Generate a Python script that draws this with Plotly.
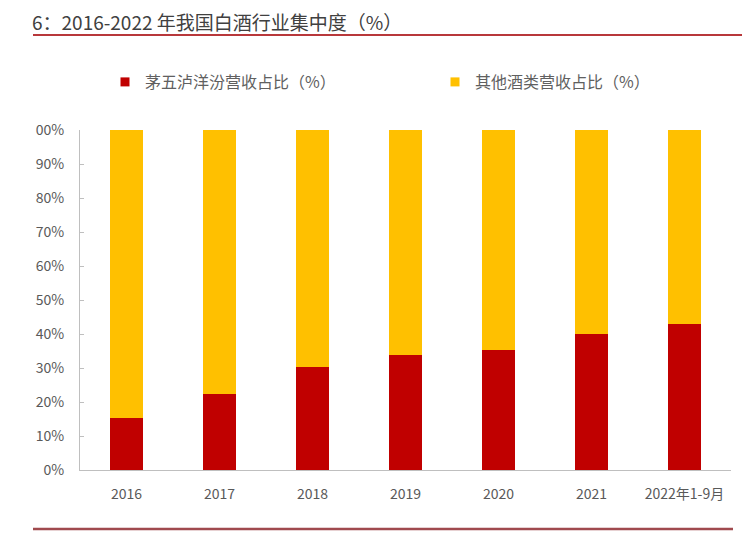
import plotly.graph_objects as go

categories = ["2016", "2017", "2018", "2019", "2020", "2021", "2022年1-9月"]
top5_share = [0.154, 0.224, 0.303, 0.337, 0.352, 0.400, 0.428]
other_share = [round(1 - v, 3) for v in top5_share]
tick_vals = [0, 0.1, 0.2, 0.3, 0.4, 0.5, 0.6, 0.7, 0.8, 0.9, 1.0]
tick_text = ["0%", "10%", "20%", "30%", "40%", "50%", "60%", "70%", "80%", "90%", "00%"]
series_names = ["茅五泸洋汾营收占比（%）", "其他酒类营收占比（%）"]
series_colors = ["#C00000", "#FFC000"]

FONT = "Noto Sans CJK SC, Noto Sans, sans-serif"
W, H = 742, 531  # page body has an 8px margin

fig = go.Figure()
fig.add_trace(go.Bar(x=categories, y=top5_share, name=series_names[0], showlegend=False,
                     marker=dict(color=series_colors[0], line=dict(width=0))))
fig.add_trace(go.Bar(x=categories, y=other_share, name=series_names[1], showlegend=False,
                     marker=dict(color=series_colors[1], line=dict(width=0))))
# legend entries
fig.add_trace(go.Scatter(x=[None], y=[None], mode="markers", name=series_names[0],
                         marker=dict(symbol="square", size=9, color=series_colors[0]),
                         legend="legend"))
fig.add_trace(go.Scatter(x=[None], y=[None], mode="markers", name=series_names[1],
                         marker=dict(symbol="square", size=9, color=series_colors[1]),
                         legend="legend2"))

leg_common = dict(orientation="h", yanchor="middle", xanchor="left", itemwidth=30,
                  font=dict(size=16, color="#606060", family=FONT),
                  bgcolor="rgba(0,0,0,0)", y=(470 - 82) / 340)

fig.update_layout(
    width=W, height=H,
    barmode="stack", bargap=0.645,
    paper_bgcolor="white", plot_bgcolor="white",
    margin=dict(l=72, r=19, t=122, b=69, autoexpand=False),
    font=dict(family=FONT, color="#595959", size=14),
    showlegend=True,
    legend=dict(x=(105 - 80) / 651, **leg_common),
    legend2=dict(x=(435 - 80) / 651, **leg_common),
    title=dict(text="6：2016-2022 年我国白酒行业集中度（%）", xref="container", yref="container",
               x=(32 - 8) / W, y=1 - (23 - 8) / H, xanchor="left", yanchor="middle",
               font=dict(size=19, color="#404040", family=FONT)),
    xaxis=dict(showline=True, linecolor="#BFBFBF", linewidth=1, ticks="", showgrid=False,
               automargin=False, ticklabelstandoff=11,
               tickfont=dict(size=14, color="#595959")),
    yaxis=dict(range=[0, 1], tickvals=tick_vals, ticktext=tick_text, showgrid=False,
               showline=True, linecolor="#BFBFBF", linewidth=1, ticks="inside",
               ticklen=4, tickcolor="#BFBFBF", zeroline=False, automargin=False,
               ticklabelstandoff=12,
               tickfont=dict(size=14, color="#595959")),
    shapes=[
        dict(type="line", xref="paper", yref="paper", x0=(33 - 80) / 651, x1=(750 - 80) / 651,
             y0=(470 - 35) / 340, y1=(470 - 35) / 340, line=dict(color="#B8383B", width=2)),
        dict(type="line", xref="paper", yref="paper", x0=(33 - 80) / 651, x1=(733 - 80) / 651,
             y0=(470 - 529) / 340, y1=(470 - 529) / 340, line=dict(color="#A04A4E", width=2.5)),
    ],
)

fig.write_html("out.html")
